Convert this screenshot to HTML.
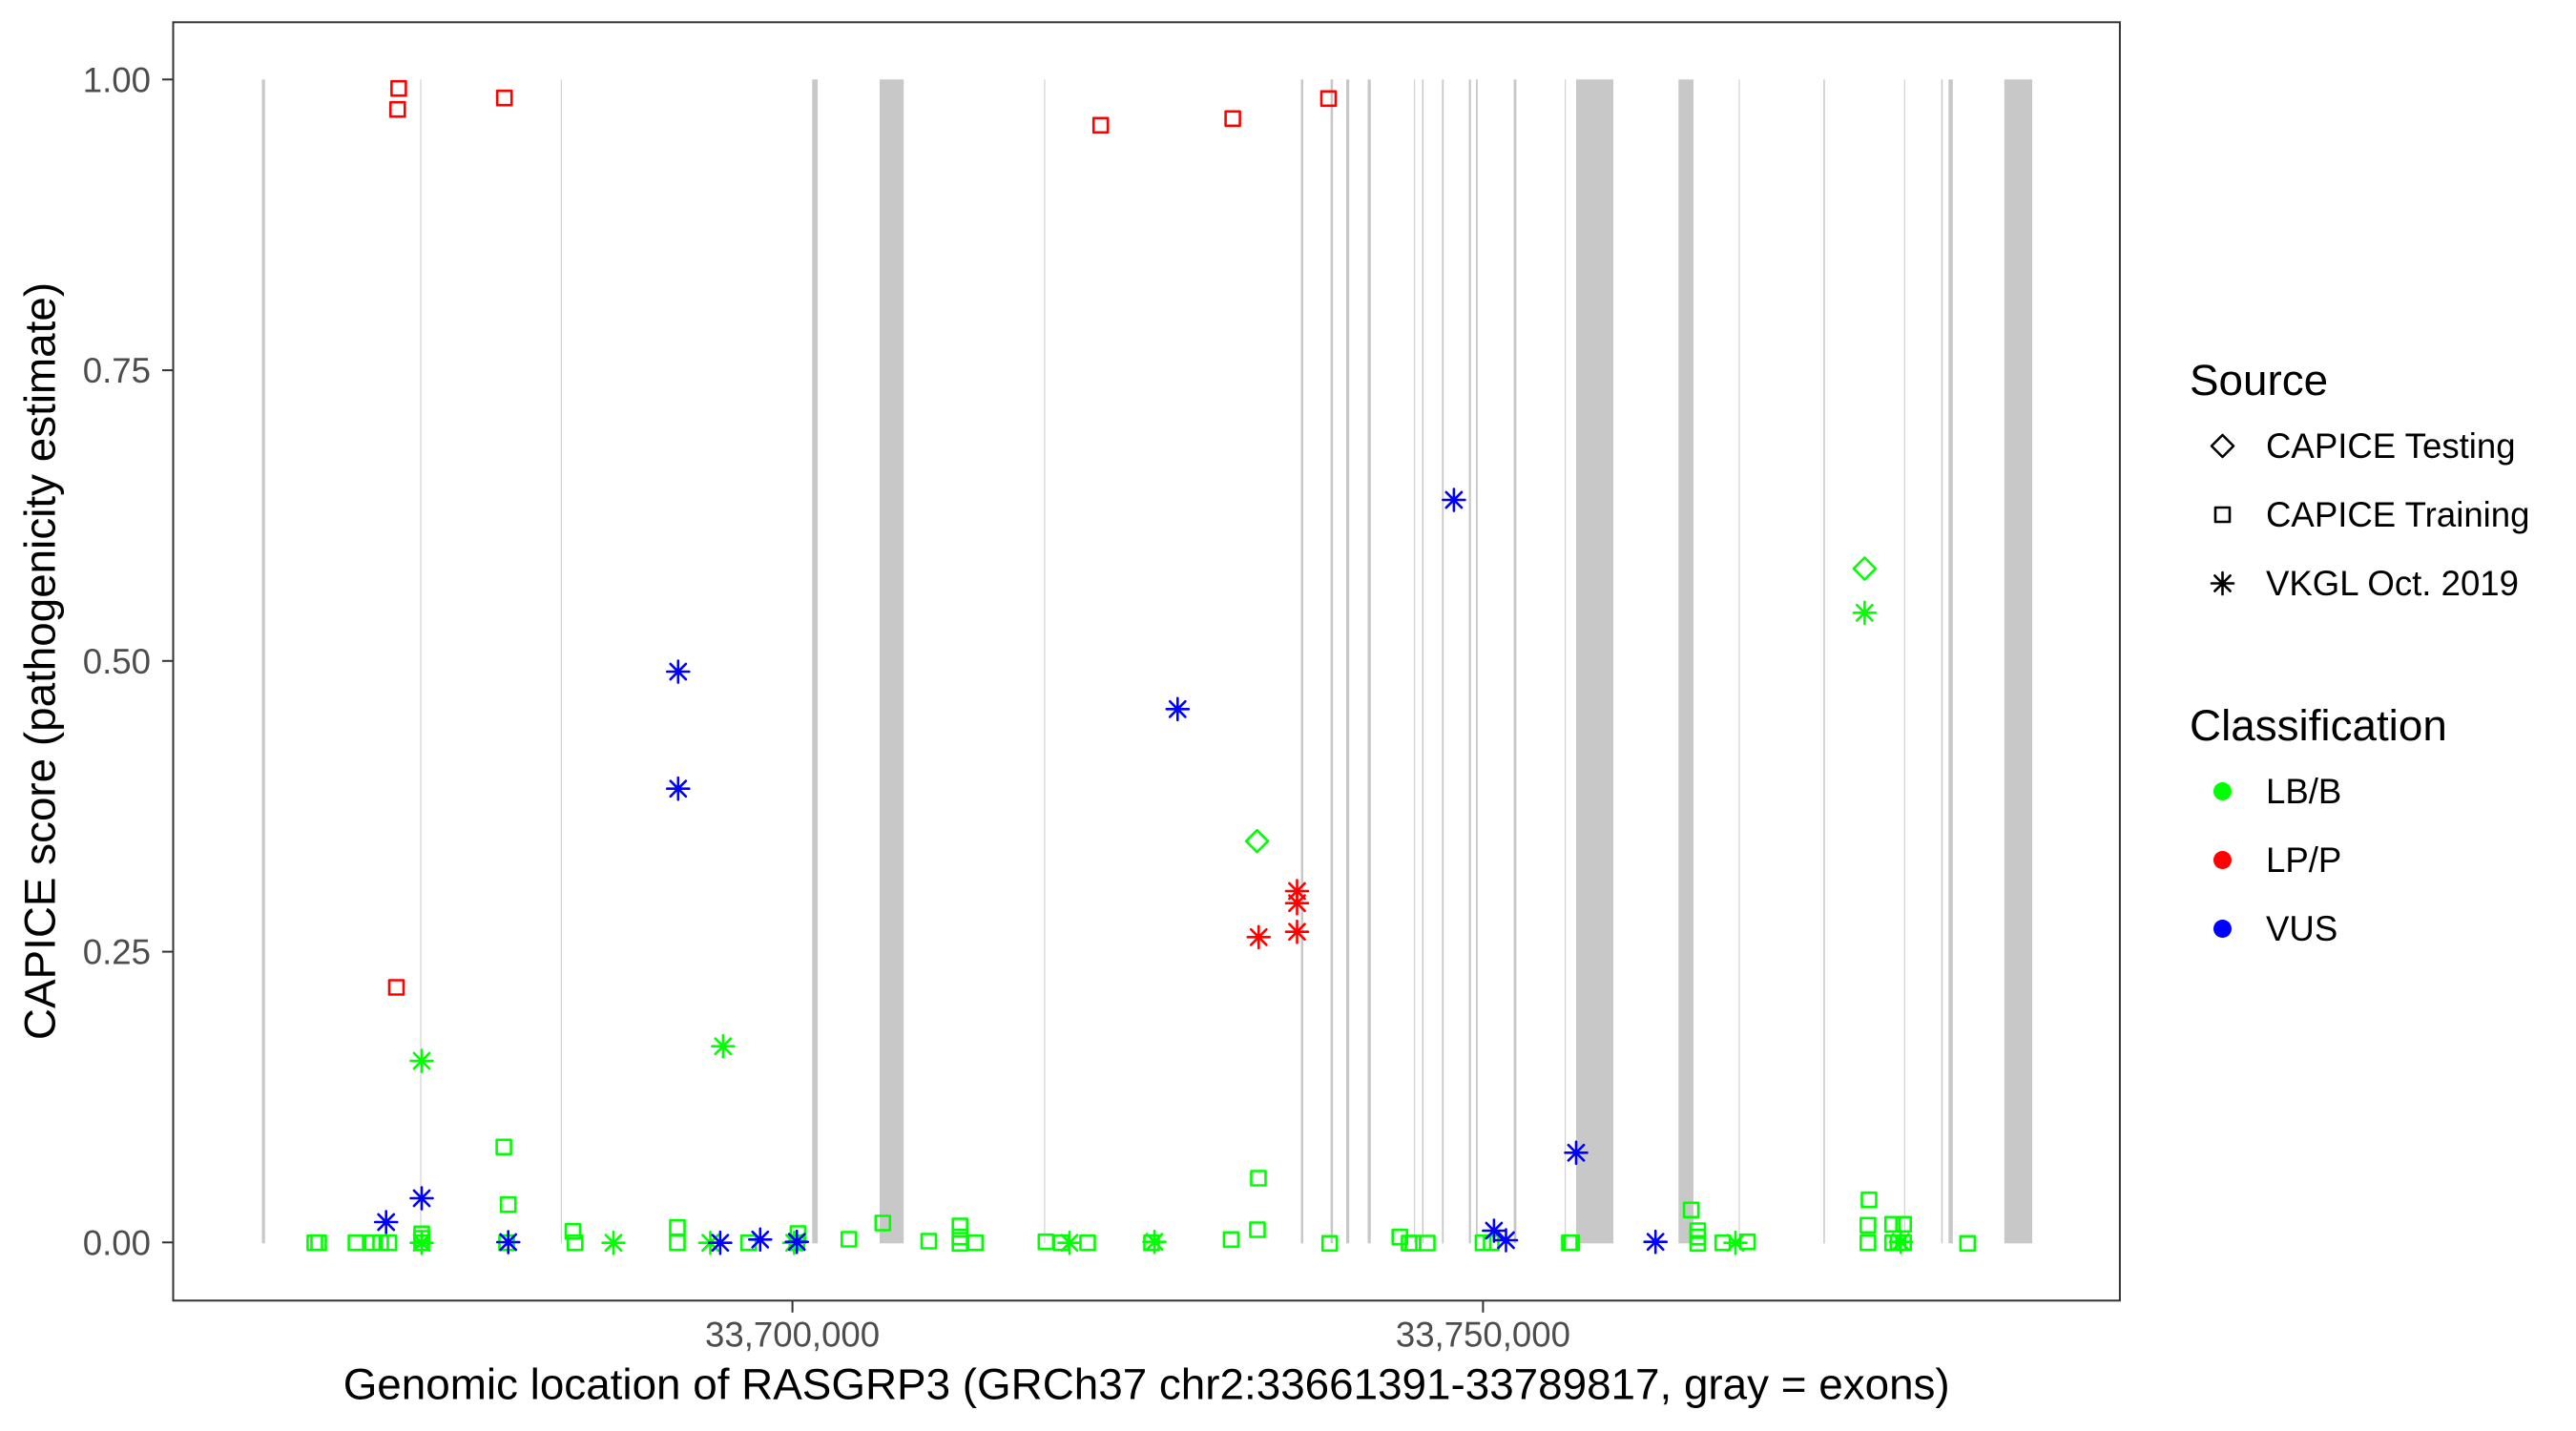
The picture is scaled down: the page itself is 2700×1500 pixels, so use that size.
<!DOCTYPE html>
<html>
<head>
<meta charset="utf-8">
<style>
html,body{margin:0;padding:0;background:#fff;}
svg{display:block;}
text{font-family:"Liberation Sans",Arial,sans-serif;}
</style>
</head>
<body>
<svg xmlns="http://www.w3.org/2000/svg" xmlns:xlink="http://www.w3.org/1999/xlink" width="2700" height="1500" viewBox="0 0 2700 1500">
<defs>
<rect id="s" x="-7.5" y="-7.5" width="15" height="15"/>
<path id="a" d="M-8.1-8.1L8.1 8.1M8.1-8.1L-8.1 8.1M-11.5 0H11.5M0-11.5V11.5"/>
<path id="d" d="M0-11.5L11.5 0L0 11.5L-11.5 0Z"/>
</defs>
<rect x="0" y="0" width="2700" height="1500" fill="#fff"/>
<g fill="#c8c8c8">
<rect x="274.5" y="83.3" width="3.3" height="1220"/>
<rect x="440.4" y="83.3" width="1.2" height="1220" fill="#d2d2d2"/>
<rect x="587.8" y="83.3" width="1.2" height="1220" fill="#d2d2d2"/>
<rect x="851.3" y="83.3" width="5.8" height="1220"/>
<rect x="922" y="83.3" width="25.2" height="1220"/>
<rect x="1094.3" y="83.3" width="1.2" height="1220" fill="#d2d2d2"/>
<rect x="1363.5" y="83.3" width="2.5" height="1220"/>
<rect x="1394.6" y="83.3" width="2.6" height="1220"/>
<rect x="1411" y="83.3" width="3.2" height="1220"/>
<rect x="1433.5" y="83.3" width="3.3" height="1220"/>
<rect x="1482" y="83.3" width="1.2" height="1220" fill="#d2d2d2"/>
<rect x="1490.6" y="83.3" width="1.5" height="1220"/>
<rect x="1511.4" y="83.3" width="1.8" height="1220"/>
<rect x="1539.5" y="83.3" width="2.3" height="1220"/>
<rect x="1547" y="83.3" width="1.8" height="1220"/>
<rect x="1586.6" y="83.3" width="2.8" height="1220"/>
<rect x="1640" y="83.3" width="1.2" height="1220" fill="#d2d2d2"/>
<rect x="1652" y="83.3" width="39" height="1220"/>
<rect x="1759.3" y="83.3" width="15.7" height="1220"/>
<rect x="1822.4" y="83.3" width="1.2" height="1220" fill="#d2d2d2"/>
<rect x="1911.2" y="83.3" width="1.5" height="1220"/>
<rect x="1995.7" y="83.3" width="1.2" height="1220" fill="#d2d2d2"/>
<rect x="2034.7" y="83.3" width="1.5" height="1220"/>
<rect x="2042.3" y="83.3" width="4.5" height="1220"/>
<rect x="2100.8" y="83.3" width="29.3" height="1220"/>
</g>
<g fill="none" stroke-width="2.6" stroke-linecap="round" stroke-linejoin="round">
<g stroke="#00ff00">
<use xlink:href="#s" x="528.1" y="1202.3"/>
<use xlink:href="#s" x="532.7" y="1262.7"/>
<use xlink:href="#s" x="330" y="1302.7"/>
<use xlink:href="#s" x="334" y="1302.7"/>
<use xlink:href="#s" x="373.1" y="1302.7"/>
<use xlink:href="#s" x="390.4" y="1302.7"/>
<use xlink:href="#s" x="399" y="1302.7"/>
<use xlink:href="#s" x="407.6" y="1302.7"/>
<use xlink:href="#s" x="442" y="1293.3"/>
<use xlink:href="#s" x="442" y="1298"/>
<use xlink:href="#s" x="442" y="1302.7"/>
<use xlink:href="#s" x="531" y="1302.7"/>
<use xlink:href="#s" x="600.5" y="1290.7"/>
<use xlink:href="#s" x="602.8" y="1302.7"/>
<use xlink:href="#s" x="710" y="1286.7"/>
<use xlink:href="#s" x="710" y="1302.7"/>
<use xlink:href="#s" x="784.7" y="1302.7"/>
<use xlink:href="#s" x="836.4" y="1293"/>
<use xlink:href="#s" x="835.2" y="1302.7"/>
<use xlink:href="#s" x="889.8" y="1299"/>
<use xlink:href="#s" x="925.3" y="1282"/>
<use xlink:href="#s" x="973.5" y="1301"/>
<use xlink:href="#s" x="1006.2" y="1285"/>
<use xlink:href="#s" x="1006.2" y="1296.7"/>
<use xlink:href="#s" x="1006.2" y="1303.3"/>
<use xlink:href="#s" x="1022.3" y="1302.7"/>
<use xlink:href="#s" x="1096.3" y="1301.7"/>
<use xlink:href="#s" x="1112.4" y="1302.7"/>
<use xlink:href="#s" x="1140" y="1302.7"/>
<use xlink:href="#s" x="1207" y="1302.7"/>
<use xlink:href="#s" x="1319" y="1235"/>
<use xlink:href="#s" x="1318" y="1289"/>
<use xlink:href="#s" x="1290.4" y="1299.3"/>
<use xlink:href="#s" x="1393.7" y="1303.3"/>
<use xlink:href="#s" x="1467.2" y="1296.7"/>
<use xlink:href="#s" x="1477" y="1303"/>
<use xlink:href="#s" x="1481" y="1303"/>
<use xlink:href="#s" x="1496" y="1303"/>
<use xlink:href="#s" x="1554.4" y="1302.7"/>
<use xlink:href="#s" x="1563" y="1302.7"/>
<use xlink:href="#s" x="1645" y="1302.7"/>
<use xlink:href="#s" x="1647.4" y="1302.7"/>
<use xlink:href="#s" x="1772.6" y="1268.3"/>
<use xlink:href="#s" x="1779.5" y="1290"/>
<use xlink:href="#s" x="1779.5" y="1296.7"/>
<use xlink:href="#s" x="1779.5" y="1303.3"/>
<use xlink:href="#s" x="1805.7" y="1302.7"/>
<use xlink:href="#s" x="1831.6" y="1301.7"/>
<use xlink:href="#s" x="1959" y="1257.7"/>
<use xlink:href="#s" x="1957.9" y="1284.3"/>
<use xlink:href="#s" x="1957.9" y="1302.7"/>
<use xlink:href="#s" x="1983.7" y="1283.3"/>
<use xlink:href="#s" x="1995.2" y="1283.3"/>
<use xlink:href="#s" x="1983.7" y="1302.7"/>
<use xlink:href="#s" x="1989.4" y="1302.7"/>
<use xlink:href="#s" x="1995.2" y="1302.7"/>
<use xlink:href="#s" x="2062.3" y="1303.3"/>
<use xlink:href="#a" x="442" y="1112"/>
<use xlink:href="#a" x="757.9" y="1096.7"/>
<use xlink:href="#a" x="1954.4" y="642.3"/>
<use xlink:href="#a" x="442" y="1302.7"/>
<use xlink:href="#a" x="643" y="1302.7"/>
<use xlink:href="#a" x="744.5" y="1302.7"/>
<use xlink:href="#a" x="832.4" y="1302.7"/>
<use xlink:href="#a" x="1121" y="1302.7"/>
<use xlink:href="#a" x="1210" y="1301.7"/>
<use xlink:href="#a" x="1819" y="1302.7"/>
<use xlink:href="#a" x="1992.3" y="1301.7"/>
<use xlink:href="#d" x="1317.6" y="881.7"/>
<use xlink:href="#d" x="1954.4" y="596"/>
</g>
<g stroke="#ff0000">
<use xlink:href="#s" x="417.9" y="92.7"/>
<use xlink:href="#s" x="416.8" y="114.7"/>
<use xlink:href="#s" x="528.7" y="102.7"/>
<use xlink:href="#s" x="1153.7" y="131.3"/>
<use xlink:href="#s" x="1292.1" y="124.3"/>
<use xlink:href="#s" x="1392.5" y="103.3"/>
<use xlink:href="#s" x="415.5" y="1035"/>
<use xlink:href="#a" x="1319.3" y="982.3"/>
<use xlink:href="#a" x="1359.5" y="934"/>
<use xlink:href="#a" x="1359.5" y="946.7"/>
<use xlink:href="#a" x="1359.5" y="976.7"/>
</g>
<g stroke="#0000ff">
<use xlink:href="#a" x="710.8" y="704"/>
<use xlink:href="#a" x="710.8" y="826.7"/>
<use xlink:href="#a" x="1234.3" y="743.3"/>
<use xlink:href="#a" x="1523.9" y="524"/>
<use xlink:href="#a" x="1652" y="1208.3"/>
<use xlink:href="#a" x="442" y="1256"/>
<use xlink:href="#a" x="404.7" y="1281"/>
<use xlink:href="#a" x="532.7" y="1302"/>
<use xlink:href="#a" x="754.9" y="1302.7"/>
<use xlink:href="#a" x="796.8" y="1299.3"/>
<use xlink:href="#a" x="835.2" y="1301.7"/>
<use xlink:href="#a" x="1565.9" y="1290"/>
<use xlink:href="#a" x="1578.5" y="1300"/>
<use xlink:href="#a" x="1735.2" y="1301.7"/>
</g>
</g>
<rect x="181.5" y="23.3" width="2040.4" height="1340" fill="none" stroke="#333333" stroke-width="2"/>
<g stroke="#333333" stroke-width="2">
<line x1="170" y1="83.3" x2="181.5" y2="83.3"/>
<line x1="170" y1="388.1" x2="181.5" y2="388.1"/>
<line x1="170" y1="692.8" x2="181.5" y2="692.8"/>
<line x1="170" y1="997.6" x2="181.5" y2="997.6"/>
<line x1="170" y1="1302.3" x2="181.5" y2="1302.3"/>
<line x1="830.6" y1="1363.3" x2="830.6" y2="1375.8"/>
<line x1="1554.4" y1="1363.3" x2="1554.4" y2="1375.8"/>
</g>
<g font-size="36.6" fill="#4d4d4d" text-anchor="end">
<text x="158" y="96.3">1.00</text>
<text x="158" y="401.1">0.75</text>
<text x="158" y="705.8">0.50</text>
<text x="158" y="1010.6">0.25</text>
<text x="158" y="1315.3">0.00</text>
</g>
<g font-size="36.6" fill="#4d4d4d" text-anchor="middle">
<text x="830.6" y="1411.7">33,700,000</text>
<text x="1554.4" y="1411.7">33,750,000</text>
</g>
<text x="1201.7" y="1466.7" font-size="45.8" fill="#000" text-anchor="middle">Genomic location of RASGRP3 (GRCh37 chr2:33661391-33789817, gray = exons)</text>
<text transform="translate(57.5,693) rotate(-90)" font-size="45.8" fill="#000" text-anchor="middle">CAPICE score (pathogenicity estimate)</text>
<g font-size="45.8" fill="#000">
<text x="2295" y="414">Source</text>
<text x="2295" y="776">Classification</text>
</g>
<g font-size="36.6" fill="#000">
<text x="2375" y="480">CAPICE Testing</text>
<text x="2375" y="552">CAPICE Training</text>
<text x="2375" y="624">VKGL Oct. 2019</text>
<text x="2375" y="842">LB/B</text>
<text x="2375" y="914">LP/P</text>
<text x="2375" y="986">VUS</text>
</g>
<g fill="none" stroke="#000" stroke-width="2.6" stroke-linecap="round" stroke-linejoin="round">
<use xlink:href="#d" x="2329.5" y="467.5"/>
<use xlink:href="#s" x="2329.5" y="539.5"/>
<use xlink:href="#a" x="2329.5" y="611.5"/>
</g>
<circle cx="2329.5" cy="829.5" r="9.5" fill="#00ff00"/>
<circle cx="2329.5" cy="901.5" r="9.5" fill="#ff0000"/>
<circle cx="2329.5" cy="973.5" r="9.5" fill="#0000ff"/>
</svg>
</body>
</html>
